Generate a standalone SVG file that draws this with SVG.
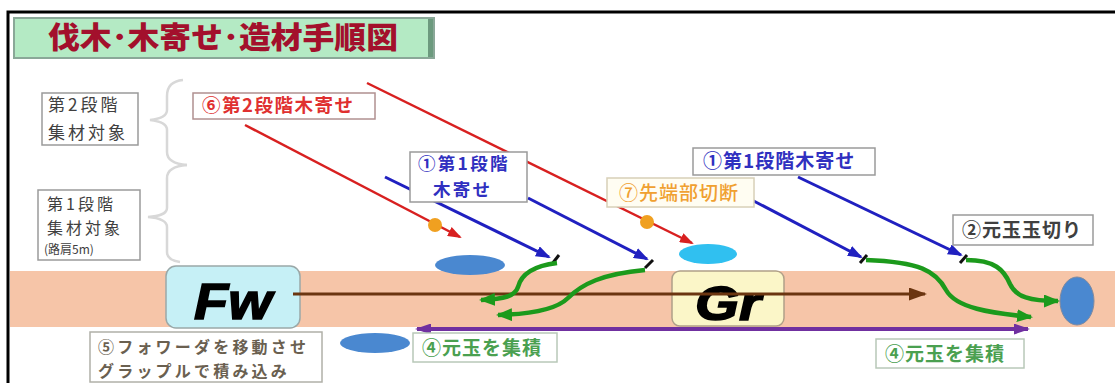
<svg xmlns="http://www.w3.org/2000/svg" width="1115" height="383" viewBox="0 0 1115 383">
<style>
.jp{font-family:"Noto Sans CJK JP","Noto Sans",sans-serif}
.lbl{fill:#ffffff;stroke:#9a9a9a;stroke-width:1.5}
.b19{font-size:19px;font-weight:700;letter-spacing:1px}
.blue{fill:#3030c0}
.brace{fill:none;stroke:#d8d8d8;stroke-width:2.5}
.arB{stroke:#2020c0;stroke-width:3;fill:none}
.arR{stroke:#d82020;stroke-width:2.5;fill:none}
.arG{stroke:#1c9a1c;stroke-width:4.5;fill:none}
.tick{stroke:#111;stroke-width:3}
</style>
<defs>
<marker id="mB" markerUnits="userSpaceOnUse" markerWidth="15" markerHeight="11" refX="13" refY="5.5" orient="auto"><path d="M0,0 L15,5.5 L0,11 z" fill="#2020c0"/></marker>
<marker id="mR" markerUnits="userSpaceOnUse" markerWidth="14" markerHeight="10" refX="12" refY="5" orient="auto"><path d="M0,0 L14,5 L0,10 z" fill="#d82020"/></marker>
<marker id="mG" markerUnits="userSpaceOnUse" markerWidth="16" markerHeight="13" refX="14" refY="6.5" orient="auto"><path d="M0,0 L16,6.5 L0,13 z" fill="#1c9a1c"/></marker>
<marker id="mBr" markerUnits="userSpaceOnUse" markerWidth="18" markerHeight="13" refX="16" refY="6.5" orient="auto"><path d="M0,0 L18,6.5 L0,13 z" fill="#6b3510"/></marker>
<marker id="mP" markerUnits="userSpaceOnUse" markerWidth="16" markerHeight="11" refX="14" refY="5.5" orient="auto-start-reverse"><path d="M0,0 L16,5.5 L0,11 z" fill="#7030a0"/></marker>
</defs>
<rect width="1115" height="383" fill="#ffffff"/>
<!-- frame -->
<path d="M8,383 V12 H1115" fill="none" stroke="#000" stroke-width="3"/>
<!-- road band -->
<rect x="10" y="271" width="1105" height="56" fill="#f6c5a8"/>
<!-- title -->
<g id="title">
<rect x="14" y="18" width="420" height="40" fill="#b4eac4" stroke="#8aa898" stroke-width="2"/>
<rect x="428" y="19" width="5" height="38" fill="#6c9a7e"/>
<text x="223" y="48" text-anchor="middle" class="jp" font-size="30" font-weight="900" fill="#a3102c" textLength="350" lengthAdjust="spacingAndGlyphs">伐木･木寄せ･造材手順図</text>
</g>
<!-- braces -->
<g id="braces">
<path class="brace" d="M183,80 C172,81 167,86 167,96 L167,110 C167,116 160,119 150,120 C160,121 167,124 167,130 L167,152 C167,160 174,164 187,165"/>
<path class="brace" d="M187,165 C174,166 167,170 167,178 L167,208 C167,214 160,216 148,217 C160,218 167,221 167,227 L167,252 C167,258 172,261 180,262"/>
</g>
<!-- left labels -->
<g id="stage2">
<rect class="lbl" x="42" y="93" width="96" height="52"/>
<text class="jp" font-size="17" letter-spacing="3" fill="#404040" x="48" y="111">第2段階</text>
<text class="jp" font-size="17" letter-spacing="3" fill="#404040" x="48" y="139">集材対象</text>
</g>
<g id="stage1">
<rect class="lbl" x="38" y="190" width="102" height="70"/>
<text class="jp" font-size="16" letter-spacing="3" fill="#404040" x="47" y="210">第1段階</text>
<text class="jp" font-size="16" letter-spacing="3" fill="#404040" x="47" y="233.5">集材対象</text>
<text class="jp" font-size="12" fill="#404040" x="44" y="254">(路肩5m)</text>
</g>
<!-- ellipses -->
<g id="logs">
<ellipse cx="470" cy="265" rx="35" ry="10" fill="#4a88d0"/>
<ellipse cx="375" cy="343" rx="35" ry="10" fill="#4a88d0"/>
<ellipse cx="708" cy="254" rx="29" ry="10" fill="#30c0f0"/>
<ellipse cx="1077" cy="301" rx="17" ry="24" fill="#4a88d0" stroke="#7f8aa0" stroke-width="1"/>
</g>
<!-- machines -->
<g id="fw">
<rect x="166" y="266" width="134" height="62" rx="10" fill="#c6f0f6" stroke="#9aa8a8" stroke-width="1.5"/>
<text x="233" y="319" text-anchor="middle" font-family="Liberation Sans, Arial, sans-serif" font-size="50" font-weight="700" font-style="italic" fill="#000" stroke="#000" stroke-width="1.5" textLength="78" lengthAdjust="spacingAndGlyphs">Fw</text>
</g>
<g id="gr">
<rect x="672" y="271" width="112" height="55" rx="8" fill="#fbf6c8" stroke="#b0a088" stroke-width="1.5"/>
<text x="728" y="320" text-anchor="middle" font-family="Liberation Sans, Arial, sans-serif" font-size="48" font-weight="700" font-style="italic" fill="#000" stroke="#000" stroke-width="1.5" textLength="66" lengthAdjust="spacingAndGlyphs">Gr</text>
</g>
<!-- connectors -->
<g id="connectors">
<line x1="293" y1="294" x2="925" y2="294" stroke="#6b3510" stroke-width="3" marker-end="url(#mBr)"/>
<line x1="417" y1="329" x2="1028" y2="329" stroke="#7030a0" stroke-width="4" marker-start="url(#mP)" marker-end="url(#mP)"/>
<line class="arR" x1="245" y1="125" x2="460" y2="237" marker-end="url(#mR)"/>
<line class="arR" x1="367" y1="83" x2="692" y2="243" marker-end="url(#mR)"/>
<line class="arB" x1="385" y1="177" x2="549" y2="257" marker-end="url(#mB)"/>
<line class="arB" x1="528" y1="198" x2="647" y2="259" marker-end="url(#mB)"/>
<line class="arB" x1="748" y1="198" x2="861" y2="257" marker-end="url(#mB)"/>
<line class="arB" x1="798" y1="177" x2="961" y2="255" marker-end="url(#mB)"/>
<line class="tick" x1="552" y1="264" x2="559" y2="255"/>
<line class="tick" x1="645" y1="268" x2="653" y2="260"/>
<line class="tick" x1="860" y1="263" x2="867" y2="255"/>
<line class="tick" x1="960" y1="263" x2="967" y2="255"/>
<path class="arG" d="M557,263 C532,266 521,275 518,287 C515,296 505,299 481,300" marker-end="url(#mG)"/>
<path class="arG" d="M645,270 C602,274 582,284 568,298 C559,307 540,314 498,315" marker-end="url(#mG)"/>
<path class="arG" d="M866,260 C920,262 936,271 946,290 C956,308 990,313 1031,317" marker-end="url(#mG)"/>
<path class="arG" d="M966,260 C995,260 1004,270 1010,284 C1016,297 1030,301 1058,301" marker-end="url(#mG)"/>
<circle cx="435" cy="225" r="7" fill="#f0a020"/>
<circle cx="647" cy="222" r="7" fill="#f0a020"/>
</g>
<!-- labels -->
<g id="label6">
<rect x="193" y="93" width="182" height="26" fill="#fff" stroke="#b09090" stroke-width="1.5"/>
<text class="jp" font-size="18.5" font-weight="700" letter-spacing="1.5" fill="#e03030" x="202" y="112">⑥第2段階木寄せ</text>
</g>
<g id="label1a">
<rect class="lbl" x="410" y="152" width="117" height="50"/>
<text class="jp blue" font-size="17.5" font-weight="700" letter-spacing="2.3" x="418" y="170">①第1段階</text>
<text class="jp blue" font-size="17.5" font-weight="700" letter-spacing="2.3" x="433" y="196">木寄せ</text>
</g>
<g id="label7">
<rect x="607" y="178" width="147" height="29" fill="#fffdf2" stroke="#d8d0b8" stroke-width="1.5"/>
<text class="jp" font-size="19" font-weight="500" letter-spacing="1" fill="#f0a030" x="619" y="200">⑦先端部切断</text>
</g>
<g id="label1b">
<rect class="lbl" x="693" y="148" width="182" height="27"/>
<text class="jp b19 blue" x="703" y="168">①第1段階木寄せ</text>
</g>
<g id="label2">
<rect class="lbl" x="953" y="215" width="140" height="30"/>
<text class="jp b19" fill="#404040" x="962" y="237">②元玉玉切り</text>
</g>
<g id="label4a">
<rect x="413" y="333" width="144" height="29" fill="#fff" stroke="#b8c8b8" stroke-width="1.5"/>
<text class="jp b19" fill="#4aa050" x="422" y="355">④元玉を集積</text>
</g>
<g id="label4b">
<rect x="876" y="339" width="148" height="29" fill="#fff" stroke="#b8c8b8" stroke-width="1.5"/>
<text class="jp b19" fill="#4aa050" x="885" y="361">④元玉を集積</text>
</g>
<g id="label5">
<rect x="90" y="332" width="232" height="50" fill="#fff" stroke="#b0b0a8" stroke-width="1.5"/>
<text class="jp" font-size="16" font-weight="700" letter-spacing="3.2" fill="#6a6050" x="98" y="353">⑤フォワーダを移動させ</text>
<text class="jp" font-size="16" font-weight="700" letter-spacing="3.2" fill="#6a6050" x="98" y="377">グラップルで積み込み</text>
</g>
</svg>
